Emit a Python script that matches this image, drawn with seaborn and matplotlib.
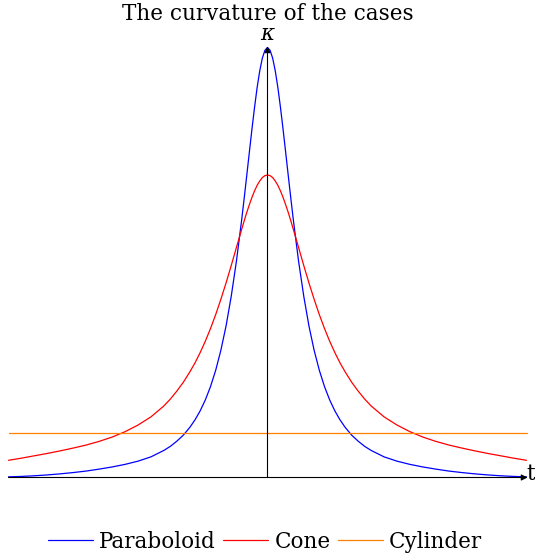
import matplotlib
matplotlib.use("Agg")
import matplotlib.pyplot as plt
import pandas as pd
import seaborn as sns

# Curvature kappa along the parameter t for the three surfaces
t = [-5.0, -4.75, -4.5, -4.25, -4.0, -3.75, -3.5, -3.25, -3.0, -2.75, -2.5,
     -2.25, -2.0, -1.875, -1.75, -1.625, -1.5, -1.4, -1.3, -1.2, -1.1, -1.0,
     -0.9, -0.8, -0.7, -0.6, -0.5, -0.45, -0.4, -0.35, -0.3, -0.25, -0.2,
     -0.15, -0.1, -0.05, 0.0, 0.05, 0.1, 0.15, 0.2, 0.25, 0.3, 0.35, 0.4,
     0.45, 0.5, 0.6, 0.7, 0.8, 0.9, 1.0, 1.1, 1.2, 1.3, 1.4, 1.5, 1.625,
     1.75, 1.875, 2.0, 2.25, 2.5, 2.75, 3.0, 3.25, 3.5, 3.75, 4.0, 4.25,
     4.5, 4.75, 5.0]

paraboloid = [0.003, 0.005, 0.008, 0.012, 0.017, 0.023, 0.030, 0.039, 0.049,
              0.061, 0.076, 0.096, 0.126, 0.145, 0.169, 0.197, 0.233, 0.268,
              0.310, 0.361, 0.423, 0.499, 0.592, 0.705, 0.843, 1.006, 1.196,
              1.299, 1.406, 1.514, 1.621, 1.722, 1.814, 1.891, 1.950, 1.987,
              2.000,
              1.987, 1.950, 1.891, 1.814, 1.722, 1.621, 1.514, 1.406, 1.299,
              1.196, 1.006, 0.843, 0.705, 0.592, 0.499, 0.423, 0.361, 0.310,
              0.268, 0.233, 0.197, 0.169, 0.145, 0.126, 0.096, 0.076, 0.061,
              0.049, 0.039, 0.030, 0.023, 0.017, 0.012, 0.008, 0.005, 0.003]

cone = [0.080, 0.090, 0.101, 0.112, 0.124, 0.137, 0.151, 0.168, 0.188, 0.213,
        0.244, 0.282, 0.333, 0.365, 0.402, 0.443, 0.491, 0.533, 0.581, 0.634,
        0.693, 0.758, 0.829, 0.905, 0.986, 1.070, 1.153, 1.194, 1.233, 1.269,
        1.303, 1.333, 1.359, 1.379, 1.395, 1.404,
        1.407,
        1.404, 1.395, 1.379, 1.359, 1.333, 1.303, 1.269, 1.233, 1.194, 1.153,
        1.070, 0.986, 0.905, 0.829, 0.758, 0.693, 0.634, 0.581, 0.533, 0.491,
        0.443, 0.402, 0.365, 0.333, 0.282, 0.244, 0.213, 0.188, 0.168, 0.151,
        0.137, 0.124, 0.112, 0.101, 0.090, 0.080]

cylinder_t = [-5.0, 5.0]
cylinder = [0.205, 0.205]

cases = ["Paraboloid", "Cone", "Cylinder"]
colors = ["#0000ff", "#ff0000", "#ff8000"]

df = pd.concat([
    pd.DataFrame({"t": t, "kappa": paraboloid, "case": cases[0]}),
    pd.DataFrame({"t": t, "kappa": cone, "case": cases[1]}),
    pd.DataFrame({"t": cylinder_t, "kappa": cylinder, "case": cases[2]}),
], ignore_index=True)

sns.set_style("white")
plt.rcParams["font.family"] = ["DejaVu Serif"]
plt.rcParams["mathtext.fontset"] = "dejavuserif"
plt.rcParams["text.color"] = "black"

W, H = 535, 560
FS = 15.5
fig = plt.figure(figsize=(W / 100, H / 100), dpi=100)
ax = fig.add_axes([8.5 / W, (H - 477.5) / H, 518 / W, 430 / H])

sns.lineplot(data=df, x="t", y="kappa", hue="case", hue_order=cases,
             palette=colors, linewidth=0.9, estimator=None, sort=False, ax=ax)
for line in ax.lines:
    line.set_clip_on(False)

ax.set_xlim(-5, 5)
ax.set_ylim(0, 2)
ax.set_xticks([])
ax.set_yticks([])
ax.set_xlabel("")
ax.set_ylabel("")
for s in ax.spines.values():
    s.set_visible(False)

arrow = dict(arrowstyle="-|>", color="black", lw=0.8, mutation_scale=9,
             shrinkA=0, shrinkB=0)
ax.annotate("", xy=(5.02, 0), xytext=(-5, 0), arrowprops=arrow,
            annotation_clip=False, zorder=4)
ax.annotate("", xy=(0, 2.005), xytext=(0, 0), arrowprops=arrow,
            annotation_clip=False, zorder=4)

fig.text(268 / W, 1 - 13.5 / H, "The curvature of the cases", ha="center",
         va="center", fontsize=FS)
fig.text(268 / W, 1 - 33.5 / H, r"$\kappa$", ha="center", va="center",
         fontsize=FS)
fig.text(531 / W, 1 - 474 / H, "t", ha="center", va="center", fontsize=FS)

sns.move_legend(ax, "center", bbox_to_anchor=(265 / W, 1 - 542 / H),
                bbox_transform=fig.transFigure, ncol=3, frameon=False,
                title=None, fontsize=FS, handlelength=2.1, handletextpad=0.28,
                columnspacing=0.33)

fig.savefig("out.png", dpi=100)
